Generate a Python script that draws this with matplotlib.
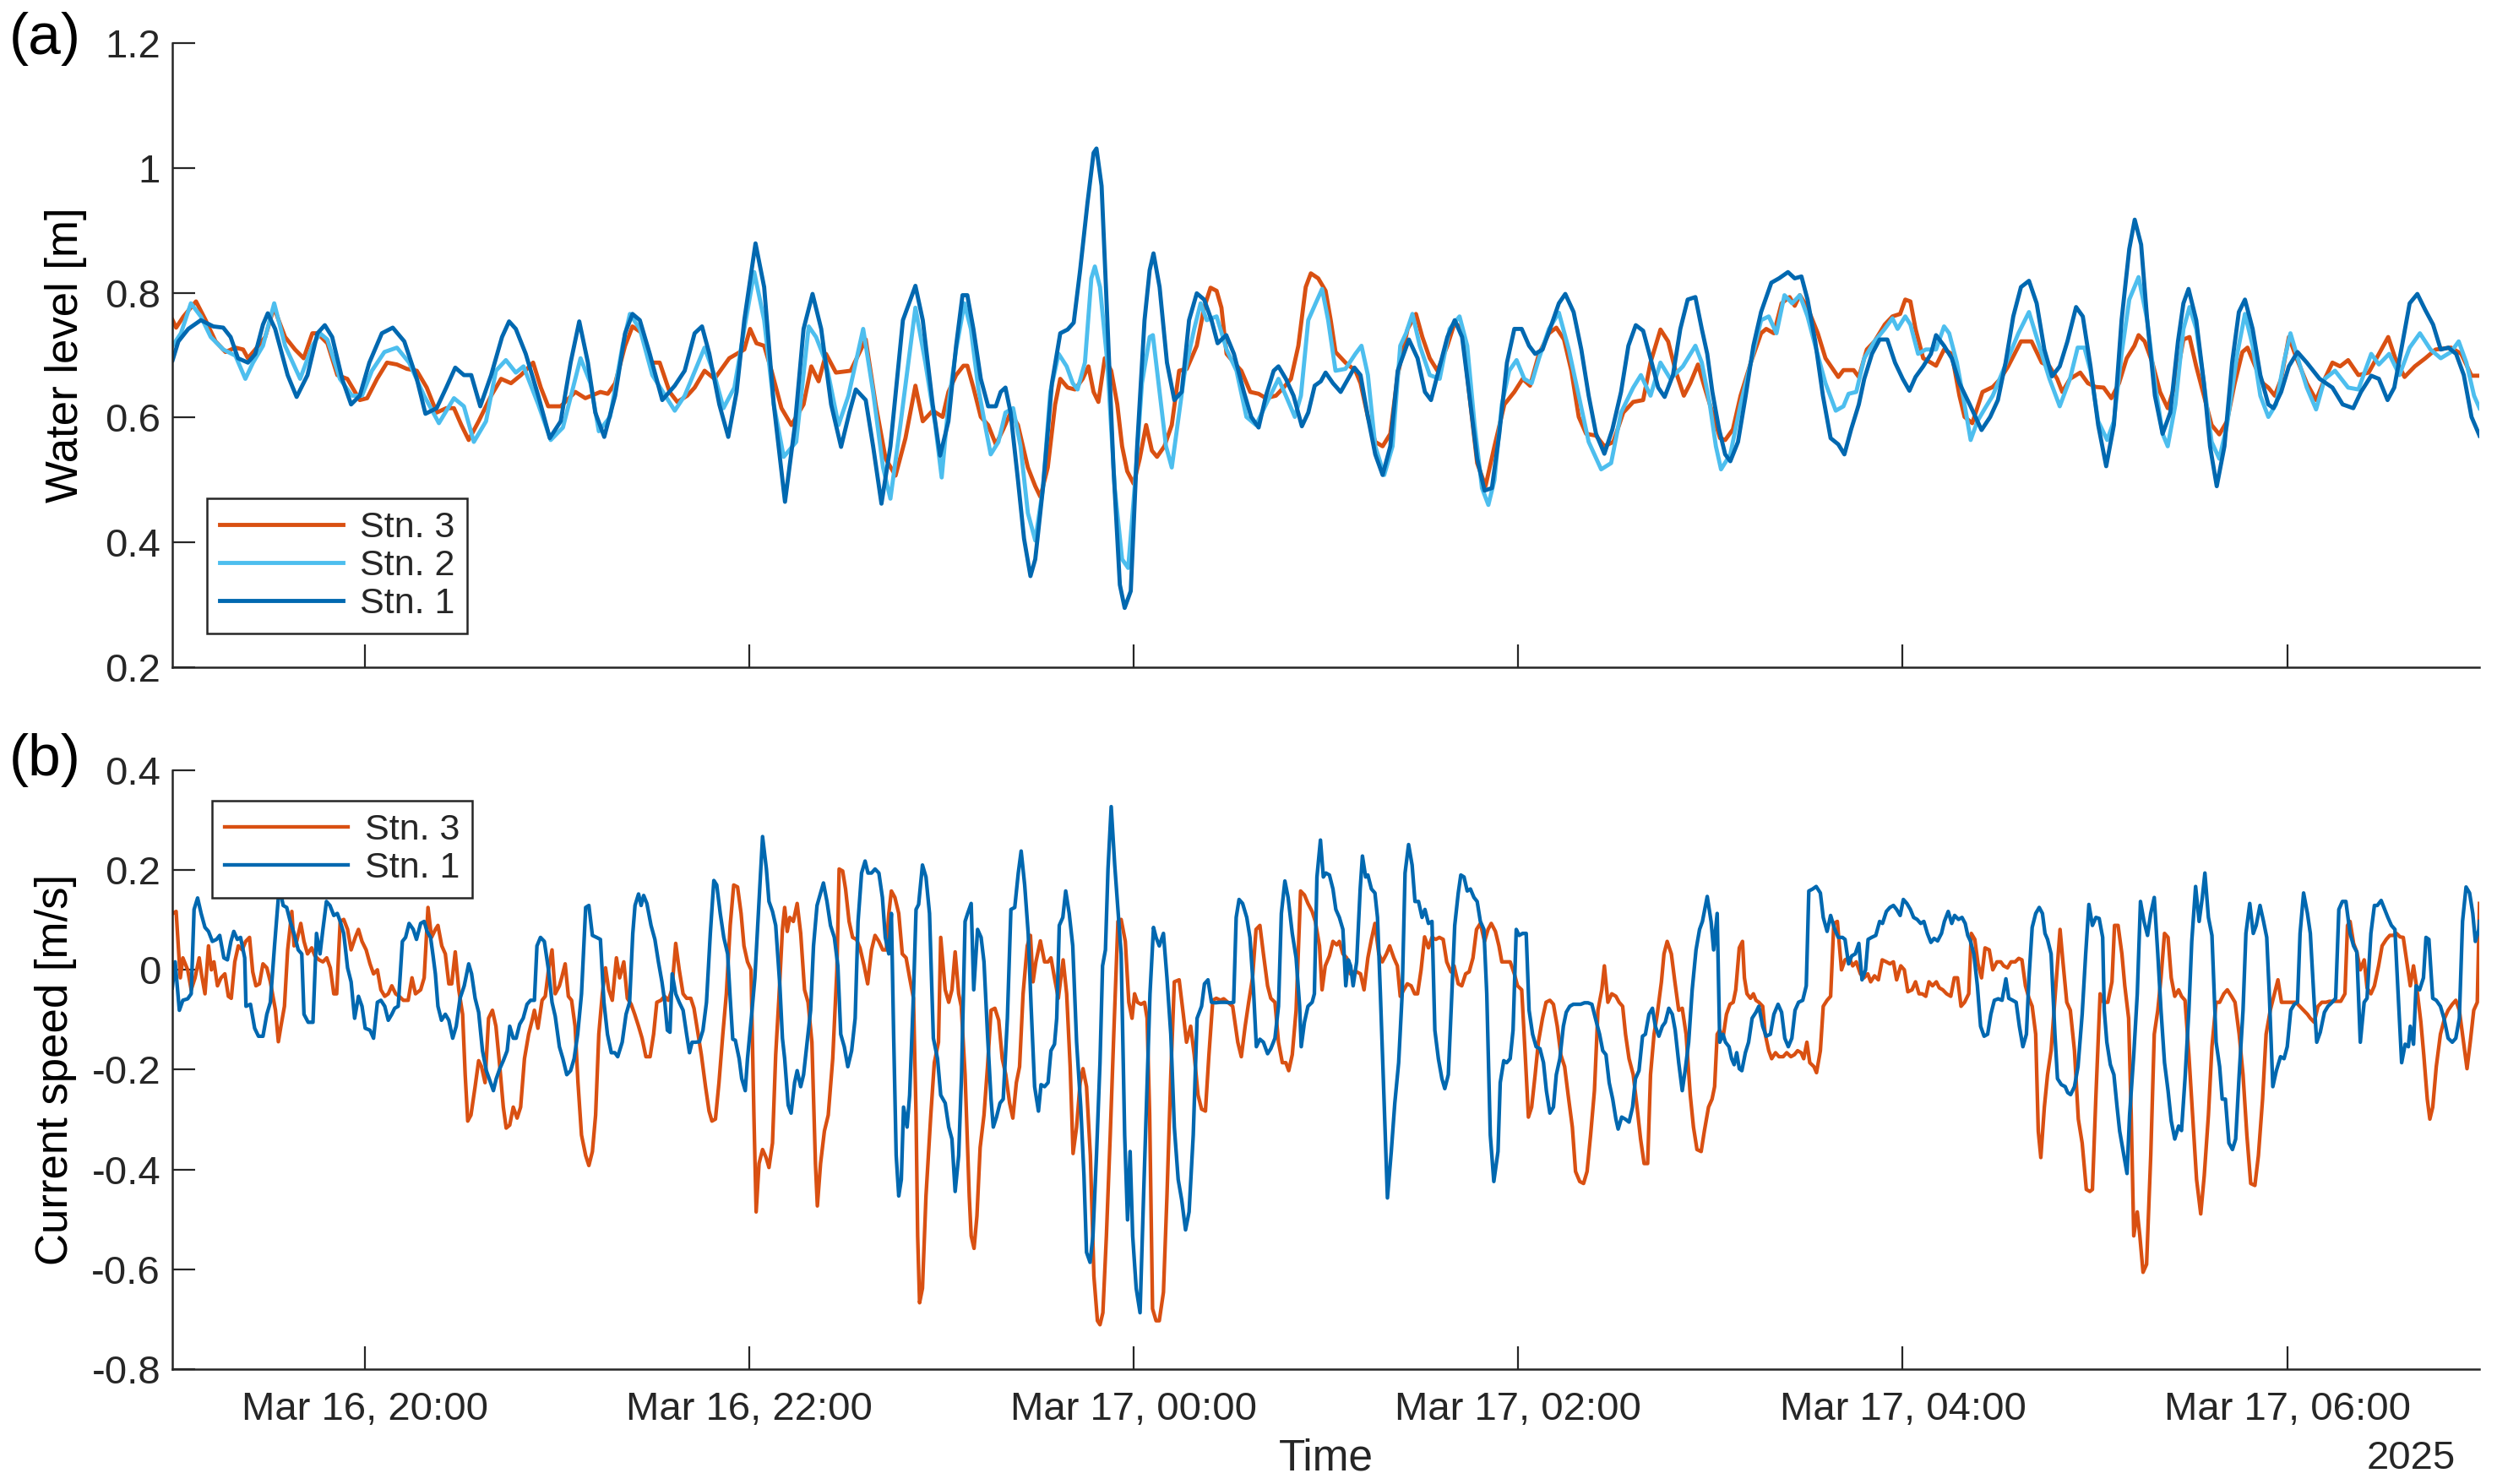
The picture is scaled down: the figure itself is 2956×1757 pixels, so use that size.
import numpy as np
import pandas as pd
import matplotlib
matplotlib.use("Agg")
import matplotlib.pyplot as plt
import matplotlib.dates as mdates
from matplotlib.ticker import FixedLocator, FuncFormatter

plt.rcParams['font.family'] = ['Liberation Sans', 'DejaVu Sans']
plt.rcParams['axes.unicode_minus'] = False

# ── time span (values below are minutes after T0) ─────────────
T0 = pd.Timestamp("2025-03-16 19:00")
T1 = pd.Timestamp("2025-03-17 07:00")

# ── (a) water level [m], (minute, value) ──
level_stn1 = [
    (0.1, 0.692), (1.9, 0.722), (5.0, 0.742), (8.9, 0.756), (12.8, 0.746), (15.9, 0.744),
    (18.2, 0.729), (20.5, 0.695), (23.6, 0.688), (25.9, 0.702), (28.3, 0.749), (29.8, 0.767),
    (32.1, 0.742), (36.0, 0.668), (38.8, 0.633), (42.2, 0.668), (45.3, 0.735), (47.6, 0.748),
    (49.9, 0.729), (53.0, 0.662), (55.8, 0.621), (58.5, 0.635), (61.5, 0.688), (65.4, 0.735),
    (68.8, 0.744), (72.4, 0.722), (76.3, 0.662), (79.0, 0.606), (82.5, 0.615), (85.5, 0.648),
    (88.3, 0.680), (91.0, 0.668), (93.3, 0.668), (96.1, 0.618), (99.5, 0.668), (102.9, 0.729),
    (105.1, 0.754), (107.2, 0.742), (110.3, 0.702), (114.2, 0.635), (117.8, 0.567), (121.2, 0.594),
    (124.3, 0.688), (127.0, 0.754), (129.7, 0.688), (132.0, 0.608), (134.8, 0.569), (138.2, 0.635),
    (141.3, 0.735), (143.6, 0.766), (145.9, 0.756), (149.0, 0.702), (152.9, 0.628), (156.8, 0.651),
    (159.9, 0.675), (163.0, 0.735), (165.3, 0.746), (167.6, 0.702), (170.7, 0.621), (173.5, 0.569),
    (176.1, 0.641), (178.5, 0.756), (182.0, 0.879), (184.7, 0.809), (187.7, 0.621), (191.2, 0.465),
    (194.3, 0.588), (197.0, 0.742), (199.8, 0.798), (202.5, 0.742), (205.6, 0.621), (208.7, 0.553),
    (211.3, 0.608), (213.3, 0.645), (216.4, 0.628), (218.7, 0.554), (221.3, 0.462), (224.1, 0.554),
    (228.0, 0.756), (231.9, 0.811), (234.2, 0.756), (237.3, 0.621), (239.6, 0.539),
    (242.2, 0.594), (244.6, 0.715), (246.6, 0.796), (248.1, 0.796), (250.0, 0.742), (252.3, 0.662),
    (254.6, 0.618), (257.0, 0.618), (258.5, 0.641), (260.0, 0.648), (261.6, 0.608), (263.9, 0.500),
    (265.8, 0.406), (267.8, 0.346), (269.3, 0.373), (271.7, 0.487), (274.5, 0.655), (277.1, 0.735),
    (279.4, 0.741), (281.3, 0.752), (283.3, 0.836), (285.6, 0.944), (287.5, 1.024), (288.4, 1.031),
    (290.0, 0.971), (291.8, 0.756), (293.7, 0.520), (295.7, 0.332), (297.2, 0.295), (299.1, 0.322),
    (301.1, 0.554), (303.4, 0.756), (305.0, 0.836), (306.2, 0.863), (308.1, 0.809), (310.4, 0.688),
    (312.7, 0.628), (315.0, 0.641), (317.3, 0.756), (319.7, 0.799), (322.0, 0.789), (324.3, 0.756),
    (326.2, 0.719), (328.9, 0.732), (331.3, 0.702), (334.4, 0.641), (336.7, 0.601), (339.0, 0.584),
    (341.3, 0.635), (343.7, 0.675), (345.2, 0.682), (347.5, 0.662), (349.9, 0.635), (352.5, 0.586),
    (354.5, 0.608), (356.5, 0.651), (358.4, 0.658), (359.9, 0.672), (362.2, 0.655), (364.6, 0.641),
    (366.9, 0.662), (368.9, 0.680), (370.8, 0.668), (373.1, 0.601), (375.4, 0.541), (377.7, 0.508),
    (380.1, 0.554), (382.4, 0.675), (385.9, 0.725), (388.6, 0.695), (390.9, 0.641), (392.8, 0.628),
    (394.8, 0.668), (397.9, 0.729), (400.2, 0.756), (402.5, 0.729), (404.8, 0.635), (407.2, 0.534),
    (409.5, 0.483), (411.8, 0.487), (414.1, 0.574), (416.5, 0.688), (418.8, 0.742), (421.1, 0.742),
    (423.4, 0.715), (425.3, 0.702), (427.6, 0.709), (430.4, 0.749), (432.7, 0.783), (434.7, 0.798),
    (437.3, 0.769), (439.7, 0.709), (442.0, 0.635), (444.3, 0.574), (446.9, 0.542), (449.4, 0.581),
    (452.1, 0.641), (454.4, 0.715), (456.7, 0.748), (459.0, 0.739), (461.3, 0.695), (463.7, 0.648),
    (465.7, 0.633), (468.3, 0.668), (470.6, 0.742), (472.9, 0.789), (475.3, 0.793),
    (477.3, 0.742), (479.0, 0.702), (480.6, 0.641), (482.7, 0.581), (484.6, 0.541), (486.2, 0.530),
    (488.6, 0.561), (491.0, 0.635), (493.4, 0.715), (495.8, 0.769), (499.0, 0.816), (501.4, 0.823),
    (504.2, 0.833), (506.3, 0.823), (508.4, 0.826), (510.3, 0.789), (512.7, 0.722), (515.1, 0.635),
    (517.5, 0.567), (519.9, 0.557), (521.8, 0.541), (523.9, 0.581), (526.3, 0.621), (528.0, 0.662),
    (530.4, 0.702), (532.8, 0.725), (535.2, 0.725), (537.6, 0.688), (540.0, 0.662), (542.1, 0.643),
    (544.0, 0.665), (546.4, 0.682), (548.8, 0.702), (550.4, 0.732), (552.9, 0.715), (555.3, 0.695),
    (557.7, 0.655), (560.9, 0.621), (564.6, 0.580), (567.3, 0.601), (569.7, 0.628), (572.1, 0.688),
    (574.5, 0.762), (576.9, 0.809), (579.4, 0.819), (581.8, 0.783), (584.2, 0.709), (586.6, 0.666),
    (589.0, 0.682), (591.4, 0.722), (594.1, 0.777), (596.2, 0.762), (598.6, 0.682), (601.0, 0.588),
    (603.5, 0.522), (605.9, 0.588), (608.3, 0.756), (610.7, 0.870), (612.4, 0.917), (614.4, 0.877),
    (616.3, 0.756), (618.7, 0.635), (621.1, 0.574), (623.5, 0.608), (625.9, 0.722), (627.6, 0.783),
    (629.2, 0.806), (631.6, 0.756), (634.0, 0.655), (635.9, 0.554), (638.0, 0.490), (640.4, 0.554),
    (642.8, 0.688), (644.9, 0.769), (646.8, 0.789), (649.2, 0.742), (651.6, 0.668), (654.1, 0.621),
    (655.7, 0.615), (658.1, 0.641), (660.5, 0.682), (663.2, 0.705), (666.1, 0.688), (670.1, 0.662),
    (674.1, 0.648), (677.3, 0.621), (680.6, 0.615), (683.0, 0.641), (686.2, 0.667), (688.6, 0.662),
    (691.3, 0.628), (693.4, 0.648), (695.8, 0.715), (698.2, 0.783), (700.6, 0.798), (703.1, 0.772),
    (705.5, 0.749), (707.9, 0.709), (710.3, 0.712), (712.7, 0.702), (715.1, 0.668), (717.5, 0.601),
    (720.0, 0.571),
]

level_stn2 = [
    (0.1, 0.715), (2.7, 0.735), (5.8, 0.783), (8.9, 0.762), (12.0, 0.729), (15.9, 0.709),
    (19.7, 0.699), (22.8, 0.662), (25.2, 0.688), (28.3, 0.715), (31.8, 0.783), (35.2, 0.715),
    (39.9, 0.662), (43.7, 0.715), (46.1, 0.735), (48.4, 0.725), (52.3, 0.662), (56.1, 0.635),
    (59.2, 0.635), (62.3, 0.675), (66.2, 0.705), (70.1, 0.712), (73.9, 0.688), (78.6, 0.635),
    (83.2, 0.591), (87.9, 0.631), (91.0, 0.618), (94.1, 0.561), (97.9, 0.594), (101.0, 0.675),
    (104.1, 0.692), (107.2, 0.672), (109.6, 0.682), (114.2, 0.621), (118.1, 0.564), (121.9, 0.584),
    (127.4, 0.695), (130.5, 0.655), (133.1, 0.578), (136.6, 0.601), (140.5, 0.715), (142.8, 0.766),
    (145.9, 0.742), (149.8, 0.668), (156.8, 0.611), (159.9, 0.635), (166.1, 0.712), (169.2, 0.668),
    (172.0, 0.615), (175.4, 0.648), (178.5, 0.742), (181.6, 0.833), (184.7, 0.756), (187.7, 0.621),
    (190.8, 0.537), (194.7, 0.561), (198.6, 0.746), (200.9, 0.729), (204.0, 0.688), (207.9, 0.588),
    (211.0, 0.635), (215.6, 0.742), (218.7, 0.641), (221.8, 0.520), (224.1, 0.470), (227.2, 0.588),
    (231.9, 0.776), (235.0, 0.688), (238.1, 0.588), (240.1, 0.504),
    (242.2, 0.621), (244.6, 0.709), (247.2, 0.783), (249.2, 0.742), (251.5, 0.648), (253.9, 0.581),
    (255.4, 0.541), (257.8, 0.561), (260.0, 0.608), (262.4, 0.615), (264.7, 0.554), (267.0, 0.447),
    (269.3, 0.403), (271.7, 0.487), (274.0, 0.641), (276.6, 0.702), (279.1, 0.682), (281.0, 0.655),
    (282.5, 0.645), (284.8, 0.688), (286.8, 0.823), (287.9, 0.842), (289.5, 0.809), (291.8, 0.688),
    (294.1, 0.487), (296.4, 0.373), (298.3, 0.359), (300.3, 0.487), (302.6, 0.655), (305.0, 0.729),
    (306.0, 0.732), (308.1, 0.641), (310.1, 0.554), (311.9, 0.520), (313.5, 0.581), (315.8, 0.668),
    (318.9, 0.742), (320.9, 0.783), (322.8, 0.756), (325.9, 0.762), (329.0, 0.709), (332.1, 0.675),
    (335.2, 0.601), (338.2, 0.588), (341.3, 0.621), (345.2, 0.662), (347.5, 0.635), (350.3, 0.601),
    (352.2, 0.635), (354.5, 0.756), (356.8, 0.783), (358.8, 0.806), (360.7, 0.756), (363.0, 0.675),
    (366.1, 0.678), (369.2, 0.702), (371.1, 0.715), (373.1, 0.668), (375.4, 0.554), (378.2, 0.508),
    (380.8, 0.554), (383.2, 0.715), (385.0, 0.735), (387.0, 0.766), (389.3, 0.715), (392.4, 0.668),
    (395.5, 0.662), (398.6, 0.742), (401.7, 0.762), (404.1, 0.715), (406.4, 0.588), (408.7, 0.487),
    (410.7, 0.460), (412.6, 0.500), (414.9, 0.621), (417.2, 0.675), (419.5, 0.692), (421.9, 0.662),
    (424.2, 0.655), (426.5, 0.695), (429.6, 0.742), (432.7, 0.768), (435.8, 0.709), (438.9, 0.635),
    (442.0, 0.561), (445.9, 0.517), (449.0, 0.527), (452.1, 0.608), (455.9, 0.648), (458.3, 0.668),
    (461.3, 0.635), (464.4, 0.688), (467.5, 0.662), (471.4, 0.682), (475.3, 0.715),
    (477.3, 0.688), (479.8, 0.621), (481.7, 0.554), (483.3, 0.517), (486.2, 0.541), (489.4, 0.621),
    (492.6, 0.688), (495.8, 0.756), (498.2, 0.762), (500.6, 0.735), (503.1, 0.796), (505.5, 0.783),
    (507.9, 0.796), (510.3, 0.762), (512.7, 0.715), (515.9, 0.655), (519.1, 0.611), (521.5, 0.618),
    (523.1, 0.638), (525.5, 0.641), (528.0, 0.695), (531.2, 0.722), (534.4, 0.742), (536.8, 0.759),
    (538.4, 0.742), (540.8, 0.762), (542.4, 0.749), (544.8, 0.702), (547.2, 0.709), (550.4, 0.709),
    (552.9, 0.746), (554.5, 0.735), (556.9, 0.688), (559.3, 0.621), (561.2, 0.564), (563.3, 0.594),
    (565.7, 0.615), (568.1, 0.635), (571.3, 0.675), (576.1, 0.735), (579.4, 0.769), (582.6, 0.715),
    (585.8, 0.662), (589.0, 0.618), (592.2, 0.662), (594.6, 0.712), (596.7, 0.712), (598.6, 0.675),
    (601.0, 0.594), (603.8, 0.564), (605.9, 0.594), (608.3, 0.702), (610.7, 0.789), (613.6, 0.825),
    (616.3, 0.756), (618.7, 0.655), (621.1, 0.574), (622.7, 0.554), (625.1, 0.621), (627.6, 0.742),
    (629.5, 0.777), (631.6, 0.742), (634.0, 0.655), (636.4, 0.561), (638.8, 0.534), (641.2, 0.588),
    (644.4, 0.702), (646.8, 0.766), (649.2, 0.715), (651.6, 0.635), (654.1, 0.601), (656.5, 0.621),
    (658.9, 0.688), (661.0, 0.735), (663.7, 0.688), (666.1, 0.648), (669.0, 0.613), (671.7, 0.662),
    (674.9, 0.675), (679.0, 0.648), (682.2, 0.645), (686.2, 0.702), (688.6, 0.685), (691.8, 0.702),
    (695.0, 0.668), (698.2, 0.712), (701.4, 0.735), (704.7, 0.709), (707.9, 0.695), (711.1, 0.705),
    (713.5, 0.722), (715.9, 0.688), (718.3, 0.635), (720.0, 0.615),
]

level_stn3 = [
    (0.1, 0.756), (1.2, 0.744), (3.5, 0.762), (7.4, 0.786), (10.4, 0.756), (13.5, 0.722),
    (16.6, 0.705), (19.7, 0.712), (22.1, 0.709), (23.6, 0.695), (25.9, 0.709), (29.0, 0.729),
    (31.7, 0.776), (35.2, 0.729), (38.3, 0.709), (41.0, 0.695), (43.7, 0.735), (45.3, 0.735),
    (48.4, 0.719), (51.5, 0.668), (54.6, 0.662), (58.5, 0.628), (60.8, 0.631), (63.9, 0.662),
    (67.0, 0.688), (70.1, 0.685), (73.2, 0.678), (76.3, 0.675), (79.4, 0.648), (82.5, 0.608),
    (85.5, 0.615), (87.9, 0.615), (90.2, 0.588), (92.5, 0.564), (95.6, 0.594), (99.5, 0.635),
    (102.6, 0.662), (105.7, 0.655), (108.8, 0.668), (112.6, 0.688), (115.0, 0.648), (117.3, 0.618),
    (121.2, 0.618), (125.8, 0.641), (128.9, 0.631), (133.6, 0.641), (135.9, 0.638), (138.2, 0.655),
    (141.3, 0.715), (143.6, 0.746), (146.7, 0.735), (149.0, 0.688), (152.1, 0.688), (155.2, 0.641),
    (157.6, 0.625), (160.7, 0.635), (163.0, 0.648), (166.1, 0.675), (169.2, 0.662), (173.8, 0.695),
    (178.5, 0.709), (180.3, 0.742), (182.3, 0.719), (184.7, 0.715), (187.0, 0.675), (190.1, 0.615),
    (193.2, 0.588), (197.0, 0.621), (199.4, 0.682), (201.7, 0.658), (204.0, 0.702), (207.1, 0.672),
    (211.7, 0.675), (216.4, 0.725), (219.5, 0.621), (222.6, 0.534), (225.7, 0.507), (228.8, 0.567),
    (231.9, 0.651), (234.2, 0.594), (237.3, 0.611),
    (240.4, 0.601), (242.2, 0.641), (244.6, 0.668), (246.9, 0.683), (248.1, 0.683), (250.0, 0.648),
    (252.3, 0.601), (254.6, 0.588), (257.0, 0.557), (259.3, 0.581), (261.6, 0.608), (263.9, 0.588),
    (267.0, 0.520), (269.3, 0.490), (270.9, 0.473), (273.2, 0.520), (275.5, 0.621), (277.1, 0.662),
    (279.4, 0.648), (281.7, 0.645), (284.1, 0.662), (285.9, 0.682), (287.5, 0.641), (289.0, 0.625),
    (291.0, 0.695), (293.0, 0.675), (294.9, 0.621), (296.4, 0.554), (298.0, 0.514), (300.0, 0.494),
    (301.9, 0.534), (303.9, 0.588), (305.7, 0.547), (307.3, 0.537), (309.6, 0.554), (311.9, 0.588),
    (314.2, 0.675), (316.6, 0.678), (319.7, 0.715), (322.0, 0.776), (324.0, 0.808), (325.9, 0.803),
    (327.4, 0.776), (329.0, 0.702), (331.3, 0.688), (333.6, 0.675), (336.4, 0.641), (339.0, 0.638),
    (341.3, 0.631), (344.4, 0.635), (346.8, 0.648), (349.1, 0.662), (351.4, 0.715), (353.7, 0.809),
    (355.3, 0.831), (357.6, 0.823), (359.9, 0.803), (361.5, 0.756), (363.0, 0.705), (366.1, 0.688),
    (369.2, 0.675), (370.8, 0.655), (373.1, 0.601), (375.4, 0.561), (377.7, 0.554), (380.1, 0.574),
    (382.4, 0.668), (385.5, 0.742), (388.1, 0.766), (390.1, 0.729), (392.4, 0.695), (394.8, 0.675),
    (397.9, 0.715), (400.2, 0.752), (402.5, 0.742), (404.8, 0.635), (407.2, 0.527), (409.8, 0.490),
    (412.6, 0.554), (415.7, 0.621), (418.8, 0.641), (421.4, 0.662), (423.7, 0.651), (426.5, 0.702),
    (429.6, 0.735), (431.9, 0.744), (434.3, 0.725), (436.6, 0.675), (438.9, 0.601), (441.2, 0.574),
    (444.3, 0.571), (446.9, 0.554), (449.7, 0.561), (452.8, 0.608), (455.9, 0.625), (459.0, 0.628),
    (461.3, 0.688), (464.4, 0.741), (466.8, 0.722), (469.1, 0.675), (471.7, 0.635), (473.7, 0.655),
    (476.1, 0.685),
    (478.2, 0.648), (480.6, 0.608), (483.0, 0.567), (484.6, 0.564), (487.0, 0.581), (489.4, 0.635),
    (492.6, 0.688), (495.8, 0.735), (497.4, 0.742), (499.8, 0.735), (502.2, 0.783), (504.7, 0.793),
    (506.3, 0.779), (507.9, 0.796), (510.3, 0.776), (513.5, 0.735), (515.9, 0.695), (519.9, 0.665),
    (521.5, 0.676), (524.7, 0.676), (526.3, 0.665), (528.8, 0.709), (531.2, 0.722), (534.4, 0.749),
    (536.8, 0.762), (539.2, 0.766), (540.8, 0.789), (542.4, 0.786), (544.0, 0.742), (546.4, 0.695),
    (548.8, 0.688), (550.4, 0.683), (552.9, 0.709), (555.3, 0.702), (557.7, 0.635), (559.3, 0.601),
    (561.7, 0.591), (564.9, 0.641), (568.1, 0.649), (570.5, 0.662), (572.9, 0.682), (576.9, 0.722),
    (580.2, 0.722), (583.4, 0.688), (585.8, 0.682), (588.2, 0.662), (589.8, 0.641), (592.2, 0.662),
    (595.4, 0.672), (597.8, 0.655), (600.2, 0.649), (602.7, 0.648), (605.1, 0.631), (607.5, 0.655),
    (609.9, 0.695), (612.3, 0.715), (613.6, 0.732), (615.5, 0.722), (617.9, 0.688), (620.3, 0.641),
    (622.7, 0.615), (625.1, 0.655), (627.6, 0.725), (629.5, 0.729), (631.6, 0.682), (634.0, 0.635),
    (636.4, 0.588), (638.8, 0.573), (641.2, 0.594), (643.6, 0.655), (646.0, 0.705), (647.6, 0.712),
    (650.0, 0.682), (652.4, 0.655), (654.1, 0.648), (656.1, 0.635), (658.1, 0.662), (660.5, 0.729),
    (662.9, 0.695), (666.1, 0.655), (669.0, 0.628), (671.7, 0.662), (674.1, 0.688), (676.5, 0.682),
    (679.0, 0.692), (682.2, 0.668), (685.4, 0.672), (688.6, 0.702), (691.5, 0.729), (693.7, 0.695),
    (696.6, 0.665), (699.8, 0.682), (703.1, 0.695), (706.3, 0.709), (711.1, 0.712), (714.3, 0.702),
    (717.5, 0.667), (720.0, 0.667),
]

# ── (b) current speed [m/s] ───────────────────────────────────
speed_stn1 = [
    (0.0, -0.036), (0.9, 0.016), (2.2, -0.081), (3.3, -0.061), (4.8, -0.058), (5.9, -0.048),
    (6.8, 0.121), (7.9, 0.144), (9.0, 0.113), (10.2, 0.085), (11.3, 0.077), (12.5, 0.057),
    (13.8, 0.061), (14.8, 0.069), (16.1, 0.024), (17.2, 0.020), (18.3, 0.057), (19.2, 0.077),
    (20.3, 0.061), (21.3, 0.065), (22.6, 0.024), (23.0, -0.073), (24.4, -0.069), (25.7, -0.117),
    (26.9, -0.133), (28.3, -0.133), (29.5, -0.089), (30.6, -0.065), (31.9, 0.048), (33.1, 0.145),
    (33.9, 0.152), (34.6, 0.129), (35.7, 0.125), (36.8, 0.097), (38.0, 0.073), (39.3, 0.040),
    (40.4, 0.032), (41.1, -0.089), (42.4, -0.105), (43.9, -0.105), (45.0, 0.073), (46.1, 0.032),
    (47.0, 0.081), (48.1, 0.137), (49.2, 0.129), (50.4, 0.109), (51.5, 0.113), (52.4, 0.097),
    (53.5, 0.073), (54.7, 0.004), (55.8, -0.024), (56.9, -0.097), (58.1, -0.053), (59.2, -0.073),
    (60.2, -0.117), (61.7, -0.121), (62.8, -0.137), (64.0, -0.065), (65.1, -0.061), (66.3, -0.073),
    (67.4, -0.101), (68.5, -0.089), (69.4, -0.077), (70.5, -0.073), (71.8, 0.057), (72.8, 0.065),
    (73.9, 0.093), (75.2, 0.081), (76.2, 0.061), (77.5, 0.093), (78.6, 0.097), (79.5, 0.077),
    (80.6, 0.065), (81.3, 0.032), (82.1, -0.008), (82.9, -0.073), (84.0, -0.101), (85.2, -0.089),
    (86.3, -0.101), (87.5, -0.137), (88.6, -0.113), (89.8, -0.057), (91.1, -0.032), (92.5, 0.012),
    (93.4, -0.008), (94.5, -0.057), (95.6, -0.085), (96.8, -0.162), (98.0, -0.202), (99.1, -0.222),
    (100.2, -0.242), (101.1, -0.218), (102.2, -0.198), (103.3, -0.182), (104.5, -0.162), (105.3, -0.113),
    (106.4, -0.137), (107.3, -0.137), (108.4, -0.109), (109.5, -0.097), (110.7, -0.069), (111.8, -0.061),
    (113.0, -0.061), (113.8, 0.048), (114.9, 0.065), (116.1, 0.057), (117.4, 0.0), (118.5, -0.065),
    (119.5, -0.093), (120.8, -0.154), (121.9, -0.178), (123.1, -0.210), (124.3, -0.202), (125.4, -0.178),
    (126.5, -0.129), (127.7, -0.048), (129.0, 0.125), (130.0, 0.129), (131.1, 0.069), (132.4, 0.065),
    (133.6, 0.061), (134.7, -0.065), (135.8, -0.129), (137.0, -0.166), (138.1, -0.166), (139.0, -0.174),
    (140.4, -0.145), (141.6, -0.089), (142.7, -0.065), (143.7, 0.073), (144.4, 0.129), (145.5, 0.152),
    (146.3, 0.129), (147.1, 0.149), (148.1, 0.133), (149.4, 0.089), (150.6, 0.061), (151.7, 0.016),
    (152.8, -0.024), (153.7, -0.065), (154.5, -0.121), (155.3, -0.125), (156.0, -0.008), (157.1, -0.048),
    (158.2, -0.065), (159.4, -0.081), (160.5, -0.129), (161.4, -0.166), (162.2, -0.145), (163.3, -0.145),
    (164.5, -0.144), (165.6, -0.121), (166.7, -0.065), (167.9, 0.073), (169.0, 0.179), (169.9, 0.170),
    (171.0, 0.113), (172.1, 0.065), (173.3, 0.032), (174.1, -0.057), (174.9, -0.139), (175.7, -0.141),
    (176.9, -0.178), (177.7, -0.218), (178.8, -0.242), (179.5, -0.178), (180.8, -0.089), (181.8, -0.016),
    (182.9, 0.113), (184.2, 0.267), (185.4, 0.202), (186.2, 0.137), (187.3, 0.117), (188.3, 0.089),
    (189.6, -0.032), (190.4, -0.137), (191.1, -0.178), (192.2, -0.271), (193.1, -0.287), (194.2, -0.226),
    (195.0, -0.202), (196.1, -0.234), (197.0, -0.210), (198.1, -0.145), (199.2, -0.081), (200.1, 0.048),
    (201.2, 0.129), (202.3, 0.154), (203.2, 0.174), (204.3, 0.137), (205.4, 0.089), (206.6, 0.065),
    (207.7, 0.008), (208.6, -0.129), (209.7, -0.154), (210.8, -0.194), (212.0, -0.162), (213.1, -0.097),
    (214.0, 0.097), (215.1, 0.194), (216.2, 0.218), (217.1, 0.194), (218.2, 0.194), (219.3, 0.202),
    (220.5, 0.194), (221.6, 0.145), (222.5, 0.065), (223.6, 0.032), (224.4, 0.113), (225.1, -0.129),
    (225.9, -0.372), (226.7, -0.453), (227.5, -0.420), (228.2, -0.275), (229.3, -0.315), (230.1, -0.251),
    (231.3, -0.048), (232.1, 0.121), (232.9, 0.131), (234.1, 0.210), (235.2, 0.186), (236.3, 0.113),
    (237.5, -0.137), (238.8, -0.178), (239.8, -0.251),
    (241.2, -0.267), (242.3, -0.315), (243.3, -0.339), (244.3, -0.444), (245.4, -0.372), (246.3, -0.210),
    (247.4, 0.097), (248.2, 0.113), (249.3, 0.133), (250.1, -0.040), (251.3, 0.081), (252.4, 0.065),
    (253.3, 0.016), (254.4, -0.129), (255.5, -0.259), (256.2, -0.315), (257.2, -0.295), (258.3, -0.267),
    (259.3, -0.259), (260.6, -0.097), (261.7, 0.121), (262.9, 0.125), (264.0, 0.194), (264.9, 0.238),
    (266.0, 0.170), (267.1, 0.073), (268.0, -0.073), (269.1, -0.234), (270.3, -0.283), (271.1, -0.230),
    (272.2, -0.234), (273.3, -0.226), (274.2, -0.162), (275.3, -0.149), (276.0, -0.097), (276.8, 0.089),
    (277.9, 0.105), (278.8, 0.158), (279.9, 0.113), (281.0, 0.048), (282.2, -0.145), (283.5, -0.275),
    (284.5, -0.412), (285.3, -0.566), (286.4, -0.586), (287.3, -0.533), (288.4, -0.372), (289.5, -0.186),
    (290.3, 0.008), (291.2, 0.040), (292.0, 0.202), (293.0, 0.327), (294.1, 0.210), (295.1, 0.121),
    (296.1, 0.032), (297.2, -0.331), (298.1, -0.501), (298.9, -0.364), (299.7, -0.533), (300.8, -0.638),
    (302.0, -0.687), (303.1, -0.453), (304.3, -0.210), (305.1, -0.048), (306.2, 0.085), (307.0, 0.065),
    (308.0, 0.048), (309.3, 0.073), (310.4, -0.016), (311.6, -0.129), (312.7, -0.315), (313.9, -0.420),
    (315.0, -0.461), (316.2, -0.521), (317.3, -0.485), (318.6, -0.331), (319.8, -0.097), (321.2, -0.073),
    (322.1, -0.028), (323.2, -0.020), (324.3, -0.065), (325.5, -0.066), (327.1, -0.065), (328.6, -0.065),
    (330.2, -0.066), (331.2, -0.065), (332.0, 0.105), (332.9, 0.141), (334.0, 0.133), (335.3, 0.105),
    (336.3, 0.065), (337.4, -0.040), (338.3, -0.154), (339.4, -0.139), (340.5, -0.145), (341.8, -0.168),
    (342.8, -0.158), (344.1, -0.137), (345.2, -0.073), (346.1, 0.113), (347.2, 0.178), (348.2, 0.145),
    (349.5, 0.073), (350.7, 0.024), (351.8, -0.073), (352.3, -0.154), (353.3, -0.105), (354.4, -0.073),
    (355.7, -0.065), (356.4, -0.048), (357.2, 0.186), (358.3, 0.260), (359.2, 0.186), (360.0, 0.194),
    (361.1, 0.190), (362.2, 0.162), (363.1, 0.121), (364.2, 0.105), (365.3, 0.081), (366.2, -0.032),
    (367.0, 0.020), (367.7, 0.008), (368.5, -0.032), (369.6, 0.016), (370.7, 0.162), (371.4, 0.228),
    (372.4, 0.186), (373.1, 0.190), (374.2, 0.162), (375.3, 0.154), (376.1, 0.105), (377.0, -0.048),
    (378.1, -0.251), (379.2, -0.457), (380.4, -0.364), (381.5, -0.267), (382.7, -0.186), (383.8, -0.048),
    (384.7, 0.194), (385.8, 0.251), (386.9, 0.210), (387.8, 0.137), (388.9, 0.137), (390.0, 0.105),
    (390.9, 0.121), (392.0, 0.093), (393.1, 0.097), (394.0, -0.121), (395.1, -0.178), (396.2, -0.218),
    (397.1, -0.238), (398.2, -0.210), (399.3, -0.048), (400.2, 0.089), (401.3, 0.154), (402.1, 0.190),
    (403.1, 0.186), (404.1, 0.158), (405.1, 0.162), (406.2, 0.145), (407.2, 0.137), (408.2, 0.097),
    (409.3, 0.081), (410.2, -0.048), (411.3, -0.331), (412.4, -0.424), (413.7, -0.364), (414.4, -0.226),
    (415.5, -0.182), (416.4, -0.186), (417.5, -0.178), (418.4, -0.121), (419.4, 0.081), (420.3, 0.069),
    (421.4, 0.073), (422.5, 0.073), (423.4, -0.081), (424.5, -0.129), (425.6, -0.154), (426.8, -0.158),
    (427.9, -0.186), (428.8, -0.242), (429.9, -0.287), (431.0, -0.275), (431.9, -0.210), (433.0, -0.178),
    (434.1, -0.113), (435.0, -0.085), (436.1, -0.073), (437.2, -0.069), (438.4, -0.069), (439.5, -0.069),
    (440.7, -0.066), (441.8, -0.066), (443.0, -0.069), (444.1, -0.097), (445.4, -0.129), (446.4, -0.162),
    (447.4, -0.170), (448.4, -0.226), (449.5, -0.259), (450.5, -0.299), (451.2, -0.319), (452.3, -0.295),
    (453.4, -0.299), (454.6, -0.305), (455.7, -0.275), (456.6, -0.218), (457.7, -0.202), (458.8, -0.133),
    (459.7, -0.129), (460.8, -0.089), (461.9, -0.077), (462.8, -0.113), (463.9, -0.133), (465.0, -0.113),
    (465.9, -0.105), (467.0, -0.077), (468.1, -0.089), (469.0, -0.121), (470.1, -0.186), (471.2, -0.242),
    (472.1, -0.202), (473.2, -0.145), (474.3, -0.040), (475.5, 0.040), (476.6, 0.081), (477.5, 0.097),
    (479.0, 0.147), (480.2, 0.097), (481.0, 0.040), (482.1, 0.113), (482.9, -0.145), (483.9, -0.129),
    (484.7, -0.145), (485.8, -0.154), (486.6, -0.178), (487.4, -0.190), (488.2, -0.166), (489.0, -0.198),
    (489.8, -0.202), (490.9, -0.166), (491.9, -0.145), (493.0, -0.097), (494.2, -0.085), (495.1, -0.073),
    (496.3, -0.113), (497.4, -0.133), (498.7, -0.129), (499.8, -0.089), (501.1, -0.069), (502.2, -0.085),
    (503.2, -0.137), (504.3, -0.154), (505.4, -0.137), (506.4, -0.081), (507.5, -0.065), (508.8, -0.061),
    (509.9, -0.032), (510.7, 0.158), (511.9, 0.162), (513.0, 0.167), (514.3, 0.154), (515.2, 0.105),
    (516.4, 0.077), (517.5, 0.109), (518.8, 0.081), (519.9, 0.065), (521.2, 0.065), (522.0, 0.061),
    (523.1, 0.012), (524.1, 0.028), (525.2, 0.032), (526.3, 0.053), (527.3, -0.020), (528.4, 0.0),
    (529.2, 0.061), (530.3, 0.065), (531.6, 0.069), (532.8, 0.097), (533.7, 0.093), (534.9, 0.117),
    (536.0, 0.125), (537.1, 0.129), (538.1, 0.121), (539.2, 0.109), (540.2, 0.141), (541.3, 0.133),
    (542.4, 0.121), (543.4, 0.105), (544.5, 0.101), (545.6, 0.093), (546.6, 0.097), (547.7, 0.073),
    (548.8, 0.055), (549.8, 0.063), (550.9, 0.058), (552.1, 0.073), (553.0, 0.097), (554.2, 0.117),
    (555.3, 0.093), (556.2, 0.109), (557.4, 0.101), (558.5, 0.105), (559.5, 0.093), (560.3, 0.069),
    (561.1, 0.058), (562.2, 0.032), (563.3, -0.032), (564.3, -0.113), (565.4, -0.133), (566.5, -0.129),
    (567.5, -0.089), (568.6, -0.061), (569.8, -0.058), (571.0, -0.061), (572.2, -0.018), (573.1, -0.057),
    (574.3, -0.061), (575.4, -0.065), (576.4, -0.113), (577.5, -0.154), (578.6, -0.129), (579.4, -0.016),
    (580.4, 0.085), (581.5, 0.113), (582.6, 0.125), (583.6, 0.113), (584.4, 0.073), (585.2, 0.061),
    (586.3, 0.032), (587.5, -0.129), (588.3, -0.218), (589.5, -0.230), (590.7, -0.234), (591.5, -0.246),
    (592.4, -0.250), (593.6, -0.234), (594.7, -0.194), (596.0, -0.089), (597.1, 0.032), (598.1, 0.131),
    (599.2, 0.089), (600.3, 0.105), (601.3, 0.103), (602.4, 0.065), (602.9, -0.081), (603.7, -0.145),
    (604.8, -0.190), (605.9, -0.210), (606.9, -0.275), (607.7, -0.323), (608.8, -0.364), (610.0, -0.408),
    (610.8, -0.291), (612.1, -0.170), (613.2, -0.048), (614.2, 0.137), (615.3, 0.097), (616.4, 0.069),
    (617.4, 0.113), (618.5, 0.145), (619.6, 0.032), (620.6, -0.081), (621.7, -0.186), (622.8, -0.242),
    (623.8, -0.303), (624.9, -0.339), (626.1, -0.313), (627.0, -0.322), (628.1, -0.218), (629.3, -0.081),
    (630.2, 0.057), (631.4, 0.167), (632.5, 0.097), (633.5, 0.145), (634.3, 0.194), (635.4, 0.105),
    (636.5, 0.069), (637.8, -0.145), (638.9, -0.194), (639.7, -0.259), (640.7, -0.259), (641.8, -0.347),
    (642.9, -0.360), (643.9, -0.339), (645.0, -0.210), (646.2, -0.081), (647.1, 0.073), (648.3, 0.133),
    (649.4, 0.073), (650.3, 0.089), (651.5, 0.129), (652.6, 0.097), (653.6, 0.065), (654.4, -0.048),
    (655.5, -0.234), (656.6, -0.202), (657.9, -0.174), (659.0, -0.178), (660.0, -0.154), (661.1, -0.081),
    (662.2, -0.069), (663.2, -0.065), (664.0, 0.073), (665.1, 0.154), (666.3, 0.113), (667.2, 0.073),
    (668.4, -0.065), (669.2, -0.145), (670.3, -0.125), (671.6, -0.085), (672.7, -0.073), (674.0, -0.065),
    (675.1, -0.057), (676.1, 0.121), (677.2, 0.137), (678.3, 0.137), (679.6, 0.073), (680.7, 0.048),
    (681.7, 0.036), (682.8, -0.145), (684.0, -0.065), (684.9, -0.057), (686.1, 0.073), (687.2, 0.129),
    (688.1, 0.129), (689.3, 0.139), (690.4, 0.121), (691.4, 0.105), (692.5, 0.089), (693.6, 0.081),
    (694.6, -0.048), (695.7, -0.186), (696.8, -0.149), (697.8, -0.154), (698.4, -0.113), (699.4, -0.149),
    (700.2, -0.032), (701.3, -0.040), (702.5, -0.016), (703.3, 0.065), (704.2, 0.061), (705.4, -0.057),
    (706.5, -0.061), (707.8, -0.073), (708.9, -0.097), (710.2, -0.137), (711.5, -0.145), (712.6, -0.137),
    (713.7, -0.097), (714.7, 0.097), (715.8, 0.166), (716.9, 0.154), (717.9, 0.113), (718.7, 0.057),
    (719.8, 0.081), (720.0, 0.097),
]

speed_stn3 = [
    (0.2, 0.113), (1.2, 0.117), (2.5, -0.016), (3.3, 0.024), (4.8, 0.0), (5.9, -0.040),
    (7.1, -0.016), (8.4, 0.024), (9.1, -0.008), (10.2, -0.048), (11.3, 0.048), (12.2, 0.0),
    (13.0, 0.016), (14.1, -0.032), (15.2, -0.016), (16.4, -0.008), (17.5, -0.053), (18.4, -0.057),
    (19.5, 0.016), (20.6, 0.048), (21.8, 0.040), (22.9, 0.057), (24.1, 0.065), (25.1, -0.004),
    (26.1, -0.032), (27.2, -0.028), (28.3, 0.012), (29.5, 0.004), (30.6, -0.024), (32.2, -0.081),
    (33.1, -0.144), (33.9, -0.113), (35.0, -0.073), (36.0, 0.040), (37.3, 0.117), (38.0, 0.048),
    (38.8, 0.057), (40.1, 0.093), (41.1, 0.057), (42.2, 0.032), (43.5, 0.044), (44.5, 0.028),
    (45.8, 0.020), (47.0, 0.016), (48.2, 0.024), (49.3, 0.004), (50.4, -0.048), (51.3, -0.048),
    (52.4, 0.097), (53.5, 0.101), (54.7, 0.081), (55.8, 0.040), (57.1, 0.065), (58.1, 0.081),
    (59.2, 0.057), (60.5, 0.040), (61.7, 0.012), (62.8, -0.008), (64.0, 0.0), (65.1, -0.040),
    (66.3, -0.053), (67.4, -0.048), (68.5, -0.032), (69.7, -0.048), (70.8, -0.053), (72.1, -0.061),
    (73.6, -0.061), (74.8, -0.016), (75.9, -0.048), (77.5, -0.040), (78.6, -0.016), (79.8, 0.125),
    (80.9, 0.065), (82.1, 0.081), (82.9, 0.089), (84.1, 0.048), (85.2, 0.032), (86.3, -0.028),
    (87.2, -0.028), (88.3, 0.036), (89.4, -0.040), (90.6, -0.089), (91.4, -0.210), (92.2, -0.303),
    (93.2, -0.291), (94.5, -0.234), (95.6, -0.182), (96.5, -0.194), (97.6, -0.226), (98.7, -0.097),
    (99.9, -0.081), (101.0, -0.113), (102.2, -0.194), (103.3, -0.275), (104.2, -0.317), (105.3, -0.311),
    (106.4, -0.275), (107.6, -0.297), (108.7, -0.275), (109.9, -0.178), (111.2, -0.129), (112.3, -0.101),
    (113.0, -0.081), (114.1, -0.117), (115.4, -0.061), (116.4, -0.053), (117.4, 0.0), (118.5, 0.040),
    (119.5, -0.048), (120.8, -0.032), (121.5, -0.016), (122.6, 0.012), (123.6, -0.053), (124.6, -0.061),
    (125.7, -0.113), (126.6, -0.226), (127.7, -0.331), (129.0, -0.372), (130.0, -0.392), (131.1, -0.364),
    (132.1, -0.291), (133.1, -0.129), (134.2, -0.048), (135.2, 0.004), (136.2, -0.040), (137.3, -0.061),
    (138.6, 0.024), (139.6, -0.016), (140.9, 0.016), (142.0, -0.057), (143.2, -0.069), (144.3, -0.089),
    (145.5, -0.113), (146.6, -0.137), (147.8, -0.174), (149.1, -0.174), (150.2, -0.129), (151.2, -0.065),
    (152.5, -0.061), (153.6, -0.053), (154.8, -0.061), (155.9, -0.040), (157.1, 0.053), (158.2, 0.0),
    (159.4, -0.048), (160.5, -0.057), (161.8, -0.057), (162.8, -0.077), (164.1, -0.129), (165.1, -0.170),
    (166.4, -0.234), (167.5, -0.283), (168.4, -0.303), (169.5, -0.299), (170.6, -0.226), (171.8, -0.129),
    (172.9, -0.048), (174.1, 0.089), (175.2, 0.170), (176.4, 0.166), (177.5, 0.113), (178.4, 0.048),
    (179.5, 0.016), (180.6, 0.0), (181.5, -0.291), (182.2, -0.485), (183.1, -0.388), (184.2, -0.360),
    (185.3, -0.376), (186.2, -0.396), (187.3, -0.347), (188.3, -0.170), (189.3, -0.057), (190.4, 0.081),
    (191.1, 0.125), (191.9, 0.077), (192.7, 0.105), (193.8, 0.097), (195.0, 0.133), (196.1, 0.073),
    (197.3, -0.040), (198.4, -0.065), (199.6, -0.145), (200.7, -0.388), (201.3, -0.473), (202.3, -0.388),
    (203.5, -0.323), (204.7, -0.291), (206.1, -0.178), (207.4, 0.0), (208.1, 0.202), (209.2, 0.198),
    (210.1, 0.162), (211.2, 0.097), (212.3, 0.065), (213.5, 0.061), (214.6, 0.044), (215.9, 0.008),
    (217.0, -0.028), (218.2, 0.040), (219.3, 0.069), (220.5, 0.057), (221.7, 0.040), (222.8, 0.040),
    (223.6, 0.113), (224.4, 0.158), (225.5, 0.145), (226.7, 0.113), (227.8, 0.032), (229.0, 0.024),
    (230.1, -0.016), (231.3, -0.057), (232.1, -0.291), (232.6, -0.533), (233.2, -0.667), (234.1, -0.638),
    (235.2, -0.453), (236.7, -0.291), (237.8, -0.186), (239.1, -0.145), (239.8, 0.065),
    (241.2, -0.040), (242.3, -0.065), (243.3, -0.040), (244.3, 0.036), (245.4, -0.048), (246.2, -0.073),
    (247.4, -0.210), (248.7, -0.453), (249.3, -0.533), (250.2, -0.558), (251.1, -0.493), (252.1, -0.356),
    (253.3, -0.291), (254.4, -0.194), (255.5, -0.081), (256.7, -0.077), (257.9, -0.101), (259.0, -0.178),
    (260.1, -0.210), (261.3, -0.267), (262.3, -0.297), (263.4, -0.226), (264.4, -0.194), (265.5, -0.048),
    (266.8, 0.048), (267.8, 0.069), (268.6, -0.024), (269.5, 0.016), (270.9, 0.058), (272.2, 0.016),
    (273.3, 0.016), (274.2, 0.024), (275.3, -0.016), (276.5, -0.057), (278.0, 0.020), (279.1, -0.048),
    (280.2, -0.194), (281.1, -0.368), (282.2, -0.315), (283.3, -0.226), (284.2, -0.198), (285.3, -0.234),
    (286.5, -0.372), (287.6, -0.614), (288.7, -0.703), (289.5, -0.711), (290.4, -0.687), (291.5, -0.533),
    (292.7, -0.331), (293.8, -0.129), (295.1, 0.097), (296.1, 0.101), (297.4, 0.057), (298.5, -0.065),
    (299.5, -0.097), (300.3, -0.048), (301.2, -0.065), (302.3, -0.069), (303.4, -0.065), (304.2, -0.097),
    (305.0, -0.291), (305.9, -0.679), (307.0, -0.703), (308.0, -0.703), (309.3, -0.646), (310.4, -0.453),
    (311.6, -0.210), (312.7, -0.024), (314.2, -0.020), (315.5, -0.089), (316.5, -0.145), (317.8, -0.113),
    (318.9, -0.170), (320.1, -0.251), (321.2, -0.279), (322.4, -0.283), (323.5, -0.170), (324.7, -0.061),
    (325.8, -0.057), (327.1, -0.061), (328.1, -0.058), (329.4, -0.065), (330.9, -0.073), (332.5, -0.145),
    (333.6, -0.174), (334.8, -0.113), (335.9, -0.065), (337.1, -0.016), (338.2, 0.081), (339.4, 0.089),
    (340.5, 0.032), (341.8, -0.032), (342.8, -0.057), (344.1, -0.065), (345.2, -0.145), (346.4, -0.186),
    (347.5, -0.186), (348.4, -0.202), (349.5, -0.170), (350.7, -0.081), (352.1, 0.158), (353.3, 0.150),
    (354.4, 0.133), (355.7, 0.117), (356.7, 0.097), (358.0, 0.048), (358.8, -0.040), (359.8, 0.008),
    (361.1, 0.028), (362.2, 0.057), (363.4, 0.050), (364.2, 0.057), (365.3, 0.032), (366.5, 0.024),
    (367.6, -0.008), (368.5, -0.004), (369.6, -0.004), (370.8, -0.008), (371.9, -0.040), (373.1, 0.024),
    (374.2, 0.061), (375.3, 0.093), (376.5, 0.032), (377.6, 0.016), (378.9, 0.032), (379.9, 0.048),
    (381.2, 0.024), (382.3, 0.008), (383.2, -0.053), (384.3, -0.040), (385.4, -0.028), (386.6, -0.032),
    (387.7, -0.048), (388.6, -0.048), (389.7, 0.0), (390.8, 0.066), (392.0, 0.044), (393.1, 0.065),
    (394.3, 0.061), (395.4, 0.065), (396.6, 0.061), (397.7, 0.016), (399.0, -0.004), (400.0, 0.008),
    (401.3, -0.028), (402.4, -0.032), (403.6, -0.008), (404.7, -0.004), (405.9, 0.024), (407.0, 0.081),
    (408.2, 0.093), (409.5, 0.057), (410.6, 0.081), (411.6, 0.093), (412.9, 0.077), (414.0, 0.048),
    (414.9, 0.016), (416.3, 0.016), (417.5, 0.016), (418.8, -0.008), (419.8, -0.032), (421.1, -0.040),
    (422.2, -0.170), (423.2, -0.295), (424.2, -0.275), (425.3, -0.210), (426.3, -0.145), (427.6, -0.097),
    (428.7, -0.065), (429.9, -0.061), (431.0, -0.069), (432.2, -0.113), (433.3, -0.170), (434.5, -0.194),
    (435.6, -0.251), (436.9, -0.315), (437.9, -0.404), (439.2, -0.424), (440.4, -0.428), (441.5, -0.404),
    (442.6, -0.331), (443.8, -0.242), (444.9, -0.081), (446.1, -0.040), (446.9, 0.008), (448.0, -0.065),
    (449.2, -0.048), (450.5, -0.053), (451.5, -0.065), (452.6, -0.073), (453.5, -0.129), (454.6, -0.178),
    (455.9, -0.210), (457.1, -0.275), (458.2, -0.339), (459.3, -0.388), (460.4, -0.388), (461.3, -0.210),
    (462.4, -0.129), (463.4, -0.089), (464.7, -0.024), (465.5, 0.032), (466.5, 0.057), (467.8, 0.032),
    (468.9, -0.024), (470.1, -0.081), (471.2, -0.077), (472.4, -0.129), (473.7, -0.251), (474.7, -0.315),
    (475.8, -0.360), (477.1, -0.364),
    (478.1, -0.323), (479.4, -0.275), (480.5, -0.259), (481.3, -0.234), (482.1, -0.129), (482.9, -0.121),
    (483.9, -0.137), (485.0, -0.089), (486.1, -0.069), (487.1, -0.065), (487.9, -0.040), (489.0, 0.044),
    (490.0, 0.057), (490.6, -0.016), (491.4, -0.048), (492.5, -0.057), (493.4, -0.048), (494.2, -0.061),
    (495.1, -0.065), (496.3, -0.073), (497.1, -0.129), (498.2, -0.162), (499.1, -0.178), (500.3, -0.166),
    (501.4, -0.174), (502.7, -0.174), (503.8, -0.166), (505.1, -0.174), (506.2, -0.170), (507.2, -0.162),
    (508.3, -0.166), (509.1, -0.178), (510.1, -0.145), (511.0, -0.186), (512.3, -0.194), (513.1, -0.206),
    (514.3, -0.162), (515.2, -0.073), (516.4, -0.061), (517.5, -0.053), (518.5, 0.093), (519.6, 0.097),
    (520.9, 0.0), (522.0, 0.020), (523.3, 0.024), (524.4, 0.008), (525.5, 0.016), (526.8, -0.008),
    (527.9, -0.016), (529.1, -0.008), (530.0, -0.024), (531.2, -0.012), (532.4, -0.020), (533.6, 0.020),
    (534.9, 0.016), (536.0, 0.012), (537.1, 0.016), (538.1, -0.020), (539.4, 0.008), (540.5, 0.0),
    (541.6, -0.044), (542.9, -0.040), (544.0, -0.024), (545.1, -0.048), (546.1, -0.048), (547.2, -0.053),
    (548.2, -0.024), (549.3, -0.032), (550.5, -0.024), (551.4, -0.036), (552.5, -0.040), (553.7, -0.048),
    (555.0, -0.053), (556.1, -0.016), (557.1, -0.016), (558.2, -0.073), (559.3, -0.065), (560.6, -0.048),
    (561.4, 0.073), (562.5, 0.061), (563.5, 0.012), (564.6, -0.016), (565.7, 0.044), (567.0, 0.040),
    (568.1, 0.0), (569.4, 0.016), (570.6, 0.016), (571.5, 0.008), (572.7, 0.004), (573.8, 0.016),
    (575.1, 0.016), (576.2, 0.023), (577.2, 0.020), (578.3, -0.032), (579.4, -0.057), (580.4, -0.073),
    (581.5, -0.129), (582.3, -0.323), (583.1, -0.376), (584.2, -0.275), (585.2, -0.210), (586.3, -0.162),
    (587.6, -0.048), (589.1, 0.081), (590.0, 0.016), (591.2, -0.065), (592.3, -0.081), (593.6, -0.162),
    (594.8, -0.299), (596.0, -0.347), (597.3, -0.440), (598.4, -0.444), (599.2, -0.440), (600.3, -0.251),
    (601.6, -0.048), (602.7, -0.065), (604.0, -0.065), (605.3, -0.024), (606.1, 0.089), (607.2, 0.089),
    (608.4, 0.032), (609.3, -0.032), (610.5, -0.097), (611.3, -0.291), (612.1, -0.533), (613.2, -0.485),
    (614.0, -0.533), (615.0, -0.606), (616.1, -0.590), (617.4, -0.372), (618.5, -0.129), (619.6, -0.081),
    (620.6, -0.016), (621.7, 0.073), (622.8, 0.065), (623.8, -0.016), (624.9, -0.053), (626.1, -0.040),
    (627.0, -0.053), (628.1, -0.061), (629.3, -0.170), (630.6, -0.307), (631.7, -0.420), (633.0, -0.489),
    (634.1, -0.412), (635.4, -0.291), (636.5, -0.154), (637.8, -0.065), (638.9, -0.065), (640.2, -0.048),
    (641.3, -0.040), (642.6, -0.053), (643.7, -0.065), (645.0, -0.129), (646.2, -0.210), (647.4, -0.331),
    (648.6, -0.428), (649.9, -0.432), (651.0, -0.372), (652.3, -0.259), (653.4, -0.129), (654.7, -0.081),
    (655.8, -0.053), (657.1, -0.020), (658.2, -0.065), (659.2, -0.065), (660.3, -0.065), (661.4, -0.065),
    (662.7, -0.065), (663.9, -0.073), (665.1, -0.081), (666.3, -0.089), (667.2, -0.097), (668.4, -0.105),
    (669.6, -0.073), (670.8, -0.065), (672.1, -0.065), (673.2, -0.063), (674.3, -0.063), (675.6, -0.063),
    (676.7, -0.063), (678.0, -0.048), (678.8, 0.089), (679.6, 0.097), (680.7, 0.053), (681.7, 0.036),
    (682.8, 0.0), (684.0, 0.020), (684.9, -0.036), (686.1, -0.048), (687.2, -0.032), (688.5, 0.008),
    (689.6, 0.048), (690.9, 0.061), (692.0, 0.069), (693.0, 0.069), (694.1, 0.073), (695.2, 0.066),
    (696.2, 0.065), (697.3, 0.016), (698.4, -0.032), (699.4, 0.008), (700.5, -0.040), (701.7, -0.105),
    (702.6, -0.170), (703.7, -0.259), (704.5, -0.299), (705.4, -0.275), (706.5, -0.194), (707.8, -0.129),
    (709.1, -0.097), (710.2, -0.081), (711.5, -0.069), (712.6, -0.061), (713.7, -0.081), (715.0, -0.145),
    (716.1, -0.198), (717.1, -0.145), (718.2, -0.081), (719.3, -0.065), (720.0, 0.133),
]

COL_STN3 = '#D95012'
COL_STN2 = '#4DBEEE'
COL_STN1 = '#0068B0'
AX_COL = '#262626'


def as_series(pairs):
    arr = np.array(pairs, dtype=float)
    t = T0 + pd.to_timedelta(arr[:, 0], unit='min')
    return t, arr[:, 1]


def style_axis(ax):
    for s in ('top', 'right'):
        ax.spines[s].set_visible(False)
    for s in ('left', 'bottom'):
        ax.spines[s].set_color(AX_COL)
        ax.spines[s].set_linewidth(0.9)
    ax.tick_params(direction='in', length=9.8, width=0.8, colors=AX_COL,
                   labelsize=17, labelcolor=AX_COL)
    ax.tick_params(axis='x', pad=9.5)
    ax.tick_params(axis='y', pad=5)
    ax.set_xlim(T0, T1)
    ax.xaxis.set_major_locator(mdates.HourLocator(byhour=range(0, 24, 2)))
    ax.xaxis.set_major_formatter(mdates.DateFormatter('%b %d, %H:%M'))
    ax.yaxis.set_major_formatter(FuncFormatter(lambda v, p: f'{v:g}'))


fig = plt.figure(figsize=(14.78, 8.785), dpi=200)
ax_a = fig.add_axes([0.069, 0.5504, 0.924, 0.4206])
ax_b = fig.add_axes([0.069, 0.0774, 0.924, 0.4036])

for pairs, col, lab in [(level_stn3, COL_STN3, 'Stn. 3'),
                        (level_stn2, COL_STN2, 'Stn. 2'),
                        (level_stn1, COL_STN1, 'Stn. 1')]:
    t, v = as_series(pairs)
    ax_a.plot(t, v, color=col, lw=1.75, label=lab)

for pairs, col, lab in [(speed_stn3, COL_STN3, 'Stn. 3'),
                        (speed_stn1, COL_STN1, 'Stn. 1')]:
    t, v = as_series(pairs)
    ax_b.plot(t, v, color=col, lw=1.55, label=lab)

style_axis(ax_a)
style_axis(ax_b)
ax_a.set_ylim(0.2, 1.2)
ax_a.yaxis.set_major_locator(FixedLocator([0.2, 0.4, 0.6, 0.8, 1.0, 1.2]))
ax_a.tick_params(axis='x', labelbottom=False)
ax_b.set_ylim(-0.8, 0.4)
ax_b.yaxis.set_major_locator(FixedLocator([-0.8, -0.6, -0.4, -0.2, 0.0, 0.2, 0.4]))

ax_a.set_ylabel('Water level [m]', fontsize=19, color='black')
ax_a.yaxis.set_label_coords(-0.037, 0.5)
ax_b.set_ylabel('Current speed [m/s]', fontsize=19, color='black')
ax_b.yaxis.set_label_coords(-0.0413, 0.5)

leg_kw = dict(loc='upper left', borderaxespad=0, fontsize=15.5, frameon=True,
              fancybox=False, framealpha=1, edgecolor=AX_COL, handlelength=3.4,
              handletextpad=0.45, labelspacing=0.12, borderpad=0.35)
la = ax_a.legend(bbox_to_anchor=(0.015, 0.2706), **leg_kw)
lb = ax_b.legend(bbox_to_anchor=(0.0172, 0.949), **leg_kw)
for lg in (la, lb):
    lg.get_frame().set_linewidth(0.9)
    for txt in lg.get_texts():
        txt.set_color(AX_COL)

fig.text(0.018, 0.974, '(a)', fontsize=25, ha='center', va='center')
fig.text(0.018, 0.488, '(b)', fontsize=25, ha='center', va='center')
fig.text(0.069 + 0.924 / 2, 0.017, 'Time', fontsize=18.5, ha='center', va='center',
         color=AX_COL)
fig.text(0.9835, 0.017, '2025', fontsize=17, ha='right', va='center', color=AX_COL)

fig.savefig('out.png', dpi=200)
